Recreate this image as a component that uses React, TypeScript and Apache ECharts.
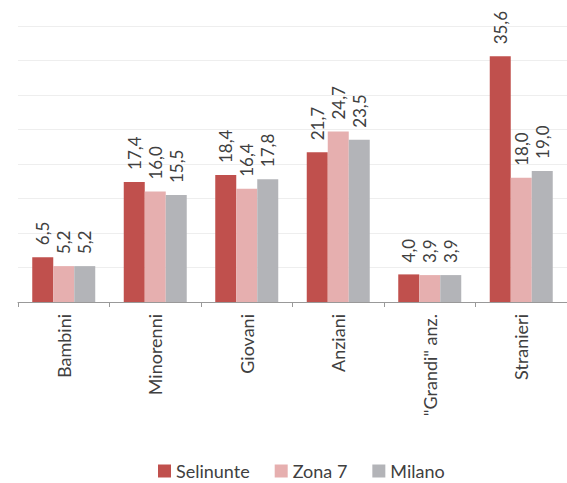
import React, { useEffect, useRef } from "react";
import * as echarts from "echarts";

const categories = ["Bambini", "Minorenni", "Giovani", "Anziani", "\"Grandi\" anz.", "Stranieri"];
const selinunte = [6.5, 17.4, 18.4, 21.7, 4.0, 35.6];
const zona7 = [5.2, 16.0, 16.4, 24.7, 3.9, 18.0];
const milano = [5.2, 15.5, 17.8, 23.5, 3.9, 19.0];
const seriesNames = ["Selinunte", "Zona 7", "Milano"];
const colors = ["#C0504D", "#E6AFAF", "#B3B4B8"];

const FONT = "Lato, 'Open Sans', sans-serif";

export default function App() {
  const ref = useRef<HTMLDivElement>(null);
  useEffect(() => {
    if (!ref.current) return;
    const chart = echarts.init(ref.current, null, { renderer: "svg" });
    const data = [selinunte, zona7, milano];
    chart.setOption({
      animation: false,
      textStyle: { fontFamily: FONT },
      grid: { left: 18, right: -9, top: 26, bottom: 181, containLabel: false },
      legend: {
        top: 462,
        left: 158,
        padding: 0,
        itemWidth: 13,
        itemHeight: 13,
        itemGap: 25,
        icon: "rect",
        textStyle: { fontSize: 18, lineHeight: 17, color: "#404040", fontFamily: FONT },
        data: seriesNames,
      },
      xAxis: {
        type: "category",
        data: categories,
        axisLine: { lineStyle: { color: "#999999", width: 1 } },
        axisTick: { show: true, length: 5, lineStyle: { color: "#999999" } },
        axisLabel: {
          rotate: 90,
          fontSize: 18,
          color: "#404040",
          margin: 12,
          fontFamily: FONT,
        },
      },
      yAxis: {
        type: "value",
        min: 0,
        max: 40,
        interval: 5,
        axisLabel: { show: false },
        axisLine: { show: false },
        axisTick: { show: false },
        splitLine: { lineStyle: { color: "#EEEEEE", width: 1 } },
      },
      series: seriesNames.map((name, i) => ({
        name,
        type: "bar",
        data: data[i],
        barWidth: 21,
        barGap: "0%",
        itemStyle: { color: colors[i] },
        label: {
          show: true,
          position: "top",
          rotate: 90,
          align: "left",
          verticalAlign: "middle",
          distance: 12,
          fontSize: 17,
          color: "#404040",
          fontFamily: FONT,
          formatter: (p: any) => Number(p.value).toFixed(1).replace(".", ","),
        },
      })),
    });
    return () => chart.dispose();
  }, []);
  return <div ref={ref} style={{ width: 567, height: 483, position: "absolute", left: 0, top: 0 }} />;
}
